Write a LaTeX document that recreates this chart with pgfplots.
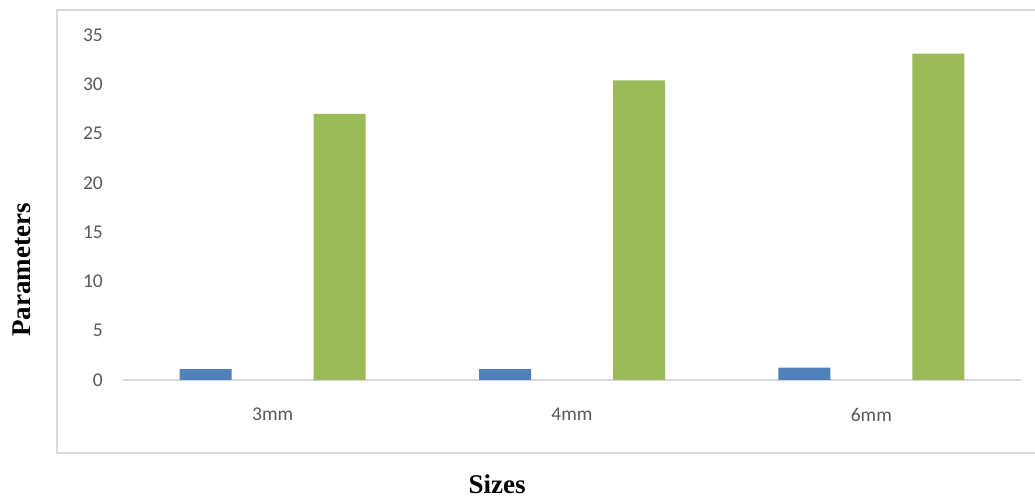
\documentclass[border=0pt]{standalone}
\usepackage{fontspec}
\setmainfont{Carlito}
\newfontfamily\titlefont{Liberation Serif}
\usepackage{pgfplots}
\pgfplotsset{compat=1.18}
\definecolor{barblue}{HTML}{4F81BD}
\definecolor{bargreen}{HTML}{9BBB59}
\definecolor{ticktext}{HTML}{595959}
\definecolor{frame}{HTML}{D9D9D9}
\begin{document}
\begin{tikzpicture}[x=1pt,y=1pt]
\useasboundingbox (0,0) rectangle (1035,500);
\draw[frame, line width=1.5pt] (1040,490) -- (57,490) -- (57,47) -- (1040,47);
\begin{axis}[
  at={(123pt,120pt)}, anchor=south west,
  scale only axis, width=898pt, height=345pt,
  xmin=-0.5, xmax=2.5, ymin=0, ymax=35,
  ytick={0,5,...,35},
  xtick={0,1,2}, xticklabels={3mm,4mm,6mm},
  axis x line*=bottom, axis y line*=left,
  x axis line style={draw=frame, line width=1.2pt, -},
  y axis line style={draw=none},
  major tick length=0pt,
  tick style={draw=none},
  /pgf/number format/assume math mode=true,
  tick label style={font=\fontsize{19.5}{23}\selectfont, text=ticktext},
  yticklabel style={inner sep=0pt, anchor=east, xshift=-20pt},
  xticklabel style={inner sep=0pt, anchor=north, yshift=-28pt},
  ybar, bar width=52pt,
  clip=false,
]
\addplot[draw=none, fill=barblue, bar shift=-67pt] coordinates {(0,1.1) (1,1.1) (2,1.25)};
\addplot[draw=none, fill=bargreen, bar shift=67pt] coordinates {(0,27.0) (1,30.4) (2,33.1)};
\end{axis}
\node[rotate=90, font=\titlefont\bfseries\fontsize{27}{32}\selectfont] at (22,230) {Parameters};
\node[font=\titlefont\bfseries\fontsize{27}{32}\selectfont, inner sep=0pt, anchor=base] at (497,6) {Sizes};
\end{tikzpicture}
\end{document}
